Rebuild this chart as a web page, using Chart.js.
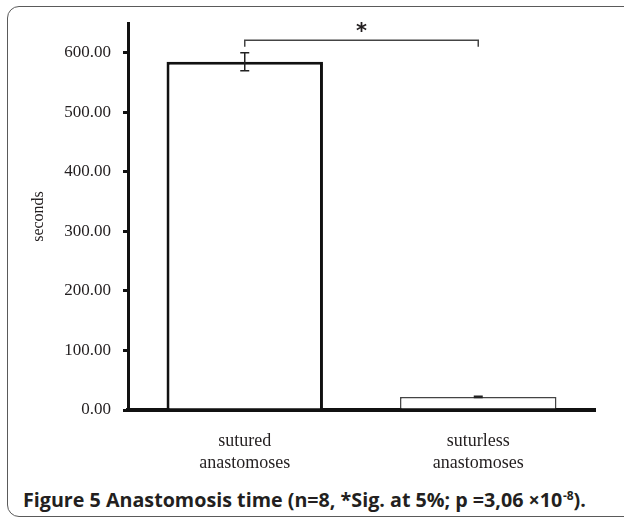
<!DOCTYPE html>
<html>
<head>
<meta charset="utf-8">
<script src="https://cdn.jsdelivr.net/npm/chart.js@4.4.1/dist/chart.umd.min.js"></script>
<style>
  html, body { margin: 0; padding: 0; background: #ffffff; }
  body { width: 624px; height: 518px; position: relative; overflow: hidden; }
  #frame { position: absolute; left: 7px; top: 6px; width: 630px; height: 511px;
           border: 1.5px solid #5a5a5a; border-radius: 12px; box-sizing: border-box; }
  #wrap { position: absolute; left: 0; top: 0; width: 624px; height: 480px; }
  #caption { position: absolute; left: 23px; top: 490px; line-height: 19px; white-space: nowrap;
             font-family: "Open Sans", sans-serif; font-weight: 700; font-size: 19.7px; color: #231f20; }
  #caption sup { font-size: 12px; vertical-align: 7px; line-height: 0; margin-left: 0.5px; }
</style>
</head>
<body>
<div id="frame"></div>
<div id="wrap"><canvas id="c"></canvas></div>
<div id="caption">Figure 5 Anastomosis time (n=8, *Sig. at 5%; p =3,06 ×10<sup>-8</sup>).</div>
<script>
const categories = [["sutured", "anastomoses"], ["suturless", "anastomoses"]];
const meanSeconds = [585, 22];
const errorSeconds = [15, 1];
const yTickValues = [0, 100, 200, 300, 400, 500, 600];
const yAxisMax = 650;
const bracketLevels = [621, 610];   // bracket top / end-drop (in seconds)
const starLevel = 643;
const starText = "*";

const textColor = "#231f20";

const errorBarPlugin = {
  id: "errorBars",
  afterDatasetsDraw(chart) {
    const ctx = chart.ctx;
    const meta = chart.getDatasetMeta(0);
    const y = chart.scales.y;
    ctx.save();
    ctx.strokeStyle = "#222";
    ctx.lineWidth = 1.5;
    meta.data.forEach((bar, i) => {
      const x = bar.x;
      const top = y.getPixelForValue(meanSeconds[i] + errorSeconds[i]);
      const bot = y.getPixelForValue(meanSeconds[i] - errorSeconds[i]);
      const cap = 4.5;
      ctx.beginPath();
      ctx.moveTo(x, top); ctx.lineTo(x, bot);
      ctx.moveTo(x - cap, top); ctx.lineTo(x + cap, top);
      ctx.moveTo(x - cap, bot); ctx.lineTo(x + cap, bot);
      ctx.stroke();
    });
    // significance bracket
    const x0 = meta.data[0].x, x1 = meta.data[1].x;
    const yb = y.getPixelForValue(bracketLevels[0]);
    const ye = y.getPixelForValue(bracketLevels[1]);
    ctx.strokeStyle = "#444";
    ctx.lineWidth = 1.5;
    ctx.beginPath();
    ctx.moveTo(x0, ye); ctx.lineTo(x0, yb); ctx.lineTo(x1, yb); ctx.lineTo(x1, ye);
    ctx.stroke();
    // asterisk
    ctx.fillStyle = textColor;
    ctx.font = "bold 21px 'DejaVu Sans'";
    ctx.textAlign = "center";
    ctx.textBaseline = "alphabetic";
    const m = ctx.measureText(starText);
    const ys = y.getPixelForValue(starLevel);
    ctx.fillText(starText, (x0 + x1) / 2, ys + (m.actualBoundingBoxAscent - m.actualBoundingBoxDescent) / 2);
    ctx.restore();
  }
};

new Chart(document.getElementById("c"), {
  type: "bar",
  data: {
    labels: categories,
    datasets: [{
      data: meanSeconds,
      backgroundColor: "#ffffff",
      borderColor: ["#111111", "#444444"],
      borderWidth: [3, 1.5],
      borderSkipped: "bottom",
      barPercentage: 0.67,
      categoryPercentage: 1.0
    }]
  },
  options: {
    responsive: true,
    maintainAspectRatio: false,
    animation: false,
    layout: { padding: { left: 0, right: 29, top: 23, bottom: 0 } },
    plugins: { legend: { display: false }, tooltip: { enabled: false } },
    scales: {
      x: {
        grid: { display: false, drawTicks: false },
        border: { display: true, color: "#111111", width: 4 },
        ticks: {
          color: textColor,
          padding: 20,
          font: { family: "'Liberation Serif', serif", size: 18, lineHeight: 1.25 }
        },
        afterFit(scale) { scale.height = 70; }
      },
      y: {
        min: 0,
        max: yAxisMax,
        afterBuildTicks(scale) { scale.ticks = yTickValues.map(v => ({ value: v })); },
        grid: { display: true, drawOnChartArea: false, drawTicks: true, tickLength: 5, color: "#111111", lineWidth: 3 },
        border: { display: true, color: "#111111", width: 3 },
        ticks: {
          color: textColor,
          padding: 12,
          font: { family: "'Liberation Serif', serif", size: 17 },
          callback: (v) => Number(v).toFixed(2)
        },
        title: {
          display: true,
          text: "seconds",
          color: textColor,
          padding: { top: 29, bottom: 0 },
          font: { family: "'Liberation Serif', serif", size: 16, lineHeight: 1.2 }
        },
        afterFit(scale) { scale.width = 128; }
      }
    }
  },
  plugins: [errorBarPlugin]
});
</script>
</body>
</html>
